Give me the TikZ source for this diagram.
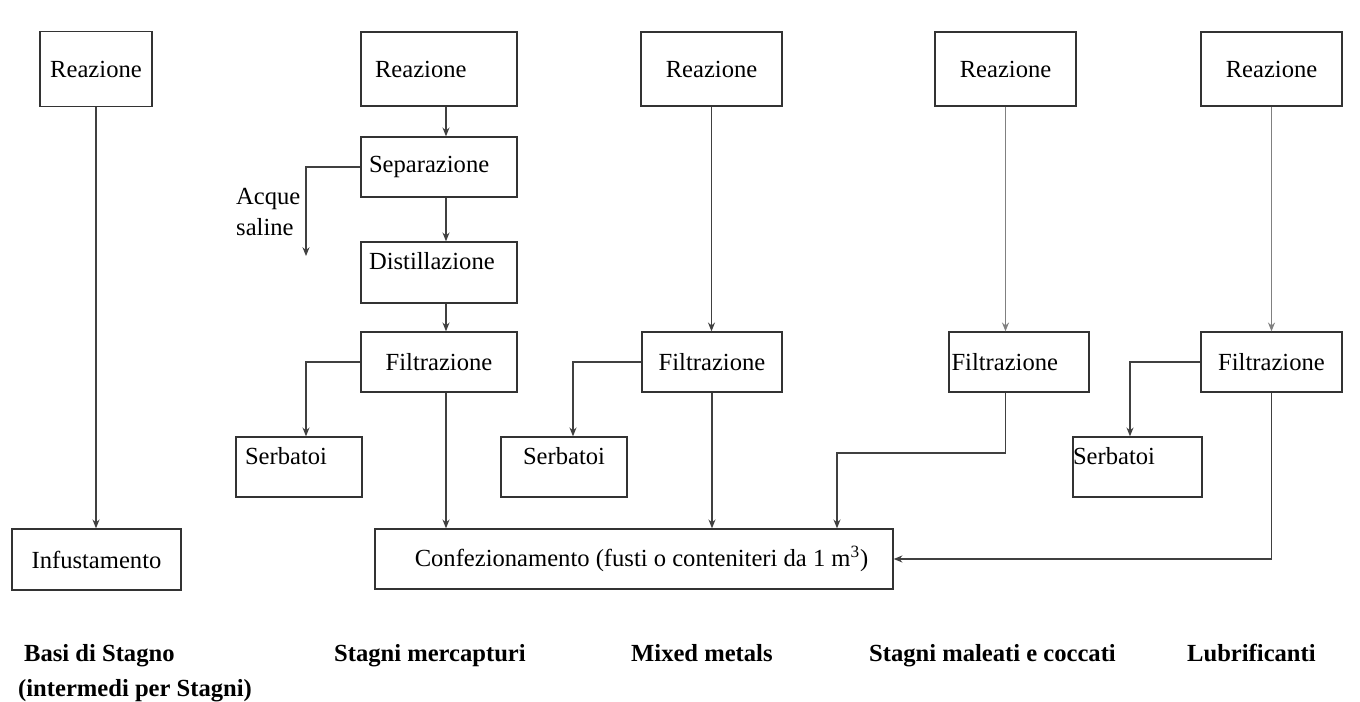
\documentclass[tikz,border=0pt]{standalone}
\usepackage{fontspec}
\IfFontExistsTF{LiberationSerif-Regular.ttf}
  {\setmainfont{LiberationSerif}[Extension=.ttf, UprightFont=*-Regular, BoldFont=*-Bold, ItalicFont=*-Italic, BoldItalicFont=*-BoldItalic]}
  {\setmainfont{Latin Modern Roman}}
\usetikzlibrary{arrows.meta}

\begin{document}
\begin{tikzpicture}[x=0.02cm,y=-0.02cm]

    \tikzstyle{box}=[rectangle, draw=black!80, line width=0.8pt, inner sep=0pt, font=\fontsize{14}{17}\selectfont]
    \tikzstyle{upper}=[text depth=0.46cm]
    \tikzstyle{flow}=[draw=black!75, line width=0.6pt, -{Stealth[length=5pt,width=4pt]}]
    \tikzstyle{faint}=[draw=black!50]
    \tikzstyle{product}=[anchor=base west, align=left, font=\bfseries\fontsize{14}{19.5}\selectfont]

    \useasboundingbox (0,0) rectangle (1360,702);

    \node[box, minimum width=2.24cm, minimum height=1.5cm]  (reaz1)  at (96,69)     {Reazione};
    \node[box, minimum width=3.38cm, minimum height=1.22cm] (infust) at (96.5,559.5) {Infustamento};

    \node[box, minimum width=3.12cm, minimum height=1.48cm, text width=2.56cm, align=left] (reaz2) at (439,69)    {Reazione};
    \node[box, minimum width=3.12cm, minimum height=1.2cm,  text width=2.8cm,  align=left] (sep)   at (439,167)   {Separazione};
    \node[box, upper, minimum width=3.12cm, minimum height=1.22cm, text width=2.8cm, align=left] (dist) at (439,272.5) {Distillazione};
    \node[box, minimum width=3.12cm, minimum height=1.2cm]                                (filt2) at (439,362)   {Filtrazione};
    \node[box, upper, minimum width=2.52cm, minimum height=1.2cm, text width=2.16cm, align=left] (serb1) at (299,467) {Serbatoi};

    \node[box, minimum width=2.82cm, minimum height=1.48cm] (reaz3) at (711.5,69) {Reazione};
    \node[box, minimum width=2.8cm,  minimum height=1.2cm]  (filt3) at (712,362)  {Filtrazione};
    \node[box, upper, minimum width=2.52cm, minimum height=1.2cm] (serb2) at (564,467) {Serbatoi};

    \node[box, minimum width=2.82cm, minimum height=1.48cm] (reaz4) at (1005.5,69) {Reazione};
    \node[box, minimum width=2.8cm,  minimum height=1.2cm, text width=2.7cm, align=left] (filt4) at (1019,362) {Filtrazione};

    \node[box, minimum width=2.82cm, minimum height=1.48cm] (reaz5) at (1271.5,69)  {Reazione};
    \node[box, minimum width=2.82cm, minimum height=1.2cm]  (filt5) at (1271.5,362) {Filtrazione};
    \node[box, upper, minimum width=2.58cm, minimum height=1.2cm, text width=2.58cm, align=left] (serb3) at (1137.5,467) {Serbatoi};

    \node[box, minimum width=10.36cm, minimum height=1.2cm] (conf) at (634,559)
        {\hspace{0.3cm}Confezionamento (fusti o conteniteri da 1 m\textsuperscript{3})};

    \node[anchor=west, align=left, font=\fontsize{14}{17.5}\selectfont] (acqtxt) at (230,212) {Acque\\saline};

    \coordinate (c2)    at (446,0);
    \coordinate (acque) at (306,256);
    \coordinate (j4)    at (837,453);

    \draw[flow] (reaz1.south) -- (reaz1.south |- infust.north);

    \draw[flow] (reaz2.south -| c2) -- (sep.north -| c2);
    \draw[flow] (sep.south -| c2)   -- (dist.north -| c2);
    \draw[flow] (dist.south -| c2)  -- (filt2.north -| c2);
    \draw[flow] (filt2.south -| c2) -- (conf.north -| c2);
    \draw[flow] (sep.west)   -| (acque);
    \draw[flow] (filt2.west) -| (serb1.north -| acque);

    \draw[flow] (reaz3.south) -- (reaz3.south |- filt3.north);
    \draw[flow] (filt3.west)  -| ([xshift=0.18cm]serb2.north);
    \draw[flow] (filt3.south) -- (filt3.south |- conf.north);

    \draw[flow, faint] (reaz4.south) -- (reaz4.south |- filt4.north);
    \draw[flow] (filt4.south -| reaz4.south) |- (j4) -- (j4 |- conf.north);

    \draw[flow, faint] (reaz5.south) -- (reaz5.south |- filt5.north);
    \draw[flow] (filt5.west)  -| ([xshift=-0.15cm]serb3.north);
    \draw[flow] (filt5.south) |- (conf.east);

    \node[product] (basi)  at (12,696)   {\hspace{0.12cm}Basi di Stagno\\(intermedi per Stagni)};
    \node[product] (merc)  at (328,662)  {Stagni mercapturi};
    \node[product] (mixed) at (625,662)  {Mixed metals};
    \node[product] (malea) at (863,662)  {Stagni maleati e coccati};
    \node[product] (lubri) at (1181,662) {Lubrificanti};

\end{tikzpicture}
\end{document}
